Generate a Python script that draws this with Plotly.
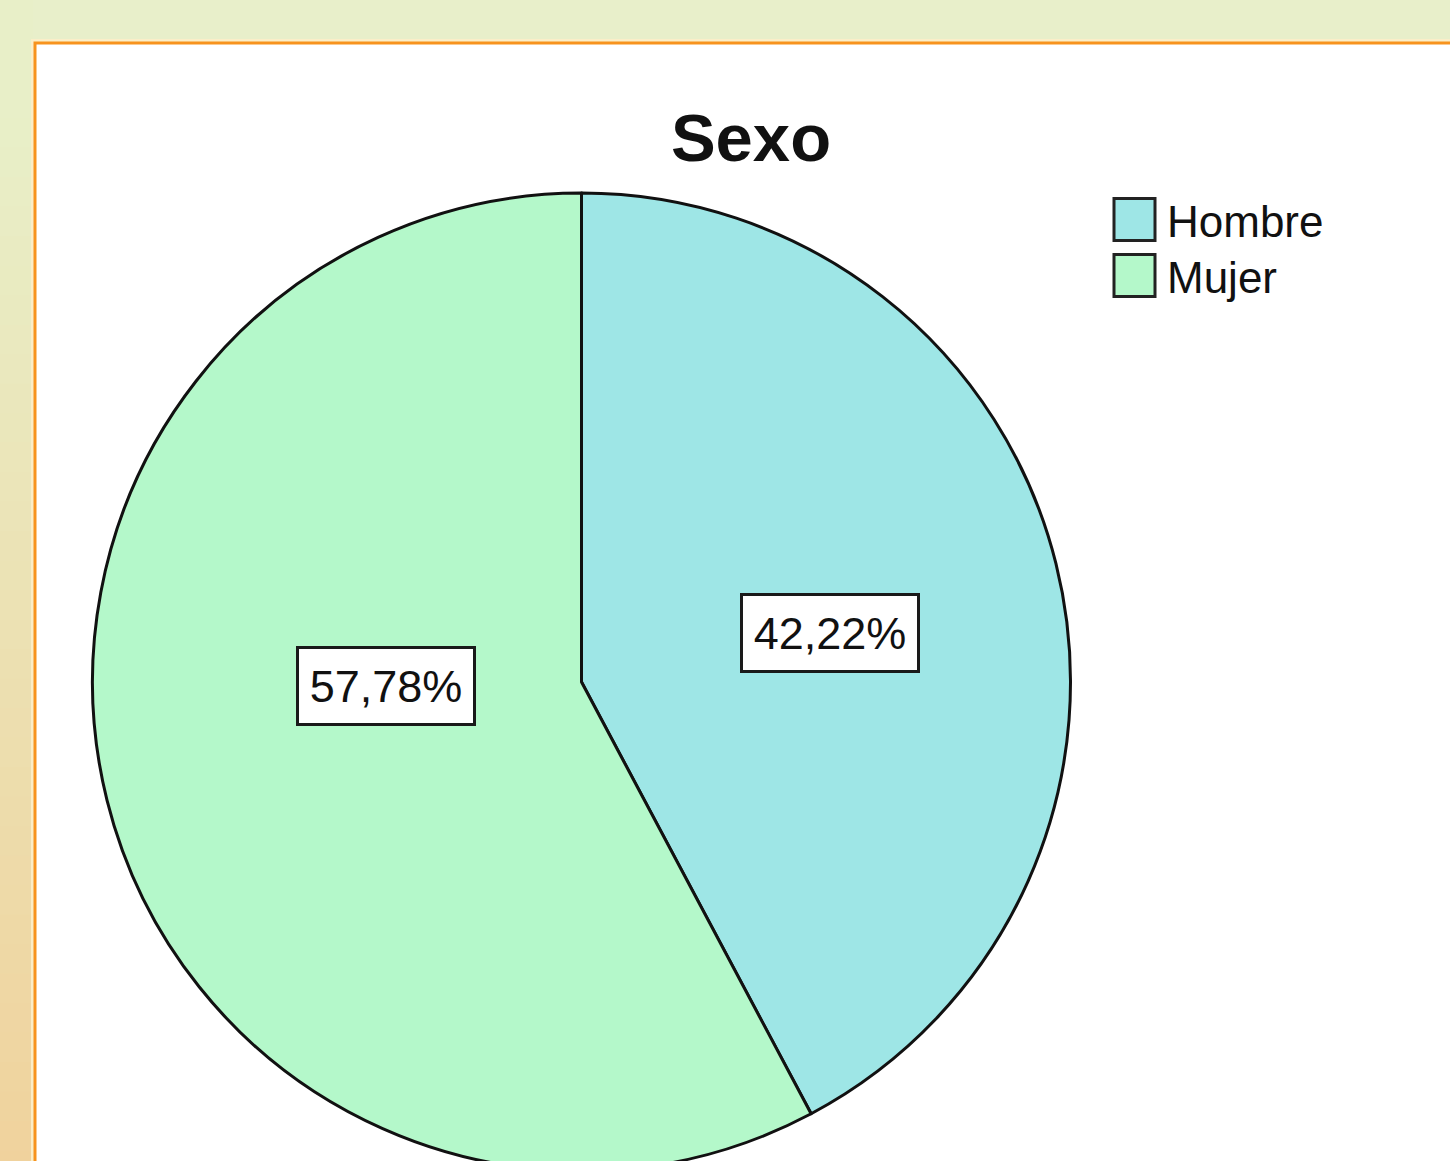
import plotly.graph_objects as go

# ---- data ----
categories = ["Hombre", "Mujer"]
percentages = [42.22, 57.78]
slice_colors = ["#9ee6e6", "#b4f8ca"]
chart_title = "Sexo"

# ---- layout helpers (pixel -> paper) ----
W, H = 1450, 1180
def X(px):
    return px / W
def Y(py):
    return 1 - py / H

FONT = "Liberation Sans, Arial, sans-serif"

fig = go.Figure()
fig.add_trace(go.Pie(
    labels=categories,
    values=percentages,
    marker=dict(colors=slice_colors, line=dict(color="#111111", width=3)),
    sort=False,
    direction="clockwise",
    rotation=0,
    textinfo="none",
    hoverinfo="label+percent",
    showlegend=False,
    domain=dict(x=[X(92.5), X(1070.5)], y=[Y(1171), Y(193)]),
))

shapes = []
# background gradient on the left strip (top pale green-yellow -> bottom orange-beige)
top_c = (232, 239, 200)
bot_c = (240, 210, 156)
n = 40
for i in range(n):
    t0 = i / n
    t1 = (i + 1) / n
    tm = (t0 + t1) / 2
    f = max(0.0, (tm - 0.1) / 0.9)
    c = tuple(int(round(top_c[k] + (bot_c[k] - top_c[k]) * f)) for k in range(3))
    shapes.append(dict(type="rect", xref="paper", yref="paper",
                       x0=X(0), x1=X(33), y0=Y(t0 * H), y1=Y(t1 * H) - 0.0005,
                       fillcolor="rgb(%d,%d,%d)" % c, line=dict(width=0), layer="below"))
# light halo outside the border
shapes.append(dict(type="rect", xref="paper", yref="paper",
                   x0=X(31), x1=X(W + 20), y0=Y(39), y1=Y(H + 20),
                   fillcolor="#fbeec8", line=dict(width=0), layer="below"))
# white panel with orange border
shapes.append(dict(type="rect", xref="paper", yref="paper",
                   x0=X(35), x1=X(W + 20), y0=Y(43), y1=Y(H + 20),
                   fillcolor="white", line=dict(color="#f7931e", width=3), layer="below"))

# legend boxes
legend_y = [219.5, 275.5]
for cat, col, yc in zip(categories, slice_colors, legend_y):
    shapes.append(dict(type="rect", xref="paper", yref="paper",
                       x0=X(1114), x1=X(1155), y0=Y(yc + 21), y1=Y(yc - 21),
                       fillcolor=col, line=dict(color="#222222", width=3), layer="above"))

annotations = []
for cat, yc in zip(categories, legend_y):
    annotations.append(dict(text=cat, xref="paper", yref="paper",
                            x=X(1165), y=Y(yc + 2), xanchor="left", yanchor="middle",
                            showarrow=False, font=dict(family=FONT, size=44, color="#111111")))

# value labels
label_pos = [(830, 633), (386, 686)]
for v, (px, py) in zip(percentages, label_pos):
    annotations.append(dict(text=("%.2f%%" % v).replace(".", ","), xref="paper", yref="paper",
                            x=X(px), y=Y(py), xanchor="center", yanchor="middle",
                            showarrow=False, bgcolor="white", bordercolor="#1a1a1a",
                            borderwidth=3, borderpad=2, width=170, height=70,
                            font=dict(family=FONT, size=45, color="#111111")))

fig.update_layout(
    width=W, height=H,
    margin=dict(l=0, r=0, t=0, b=0),
    paper_bgcolor="#e8efca",
    plot_bgcolor="white",
    title=dict(text="<b>%s</b>" % chart_title, x=X(751), y=Y(138),
               xanchor="center", yanchor="middle",
               font=dict(family=FONT, size=67, color="#111111")),
    shapes=shapes,
    annotations=annotations,
    showlegend=False,
)

fig.write_html("out.html", config={"displayModeBar": False},
               post_script="document.body.style.margin='0';document.body.style.overflow='hidden';")
